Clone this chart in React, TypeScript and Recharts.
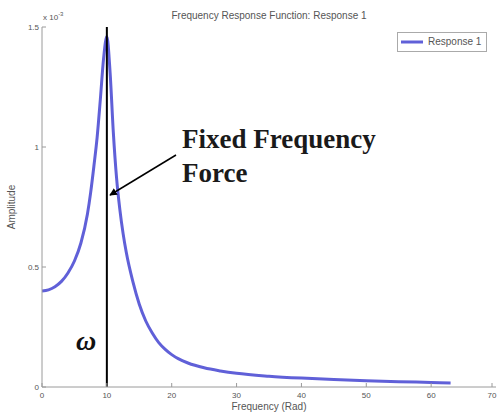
import React from 'react';
import {
  LineChart,
  Line,
  XAxis,
  YAxis,
  ReferenceLine
} from 'recharts';

// frequency (rad)
const freqs = [0, 1, 2, 3, 4, 5, 6, 7, 7.5, 8, 8.5, 9, 9.5, 10, 10.5, 11, 11.5, 12, 12.5, 13, 14, 15, 16, 17, 18, 19, 20, 21, 22.5, 25, 27.5, 30, 35, 40, 45, 50, 55, 60, 63];
// amplitude, in units of 1e-3
const amplitude = [0.4, 0.405, 0.418, 0.44, 0.475, 0.525, 0.6, 0.72, 0.81, 0.92, 1.04, 1.2, 1.37, 1.46, 1.31, 1.06, 0.87, 0.74, 0.64, 0.56, 0.44, 0.345, 0.275, 0.225, 0.185, 0.157, 0.135, 0.118, 0.1, 0.08, 0.067, 0.057, 0.045, 0.037, 0.031, 0.026, 0.022, 0.019, 0.017];

const xTicks = [0, 10, 20, 30, 40, 50, 60, 70];
const yTicks = [0, 0.5, 1, 1.5];
const forcedFreq = 10;

const data = freqs.map((f, i) => ({ f, amp: amplitude[i] }));

const AXIS = '#9a9a9a';
const TXT = '#555';
const FONT = 'Arial, "Liberation Sans", sans-serif';

const XTick = (props: any) => {
  const { x, y, payload } = props;
  return (
    <g>
      <line x1={x} y1={y} x2={x} y2={y - 4} stroke={AXIS} />
      <text x={x} y={y + 11} textAnchor="middle" fontSize={8} fill={TXT} fontFamily={FONT}>
        {payload.value}
      </text>
    </g>
  );
};

const TopTick = (props: any) => {
  const { x, y } = props;
  return <line x1={x} y1={y} x2={x} y2={y + 4} stroke={AXIS} />;
};

const YTick = (props: any) => {
  const { x, y, payload } = props;
  return (
    <g>
      <line x1={x} y1={y} x2={x + 4} y2={y} stroke={AXIS} />
      <text x={x - 3} y={y + 3} textAnchor="end" fontSize={8} fill={TXT} fontFamily={FONT}>
        {payload.value}
      </text>
    </g>
  );
};

const RightTick = (props: any) => {
  const { x, y } = props;
  return <line x1={x} y1={y} x2={x - 4} y2={y} stroke={AXIS} />;
};

export default function App() {
  return (
    <div style={{ position: 'absolute', left: 0, top: 0, width: 500, height: 412, background: '#fff' }}>
      <LineChart
        width={500}
        height={412}
        data={data}
        margin={{ top: 27, right: 4, bottom: 0, left: 0 }}
      >
        <XAxis
          dataKey="f"
          type="number"
          domain={[0, 70]}
          ticks={xTicks}
          allowDataOverflow
          stroke={AXIS}
          tickLine={false}
          tickSize={0}
          tickMargin={0}
          height={25}
          tick={<XTick />}
          label={{ value: 'Frequency (Rad)', position: 'insideBottom', offset: 2, fontSize: 10, fill: TXT, fontFamily: FONT }}
        />
        <XAxis
          xAxisId="top"
          orientation="top"
          dataKey="f"
          type="number"
          domain={[0, 70]}
          ticks={xTicks}
          allowDataOverflow
          stroke={AXIS}
          tickLine={false}
          tickSize={0}
          tickMargin={0}
          height={0}
          tick={<TopTick />}
        />
        <YAxis
          type="number"
          domain={[0, 1.5]}
          ticks={yTicks}
          allowDataOverflow
          stroke={AXIS}
          tickLine={false}
          tickSize={0}
          tickMargin={0}
          width={42}
          tick={<YTick />}
          label={{ value: 'Amplitude', angle: -90, position: 'insideLeft', offset: 11, fontSize: 10, fill: TXT, fontFamily: FONT, style: { textAnchor: 'middle' } }}
        />
        <YAxis
          yAxisId="right"
          orientation="right"
          type="number"
          domain={[0, 1.5]}
          ticks={yTicks}
          allowDataOverflow
          stroke={AXIS}
          tickLine={false}
          tickSize={0}
          tickMargin={0}
          width={0}
          tick={<RightTick />}
        />
        <Line
          type="monotone"
          dataKey="amp"
          stroke="#6060d8"
          strokeWidth={3}
          dot={false}
          isAnimationActive={false}
        />
        <ReferenceLine x={forcedFreq} stroke="#000" strokeWidth={2} />
      </LineChart>

      <svg width={500} height={412} style={{ position: 'absolute', left: 0, top: 0, pointerEvents: 'none' }}>
        <defs>
          <marker id="head" viewBox="0 0 10 10" refX="9" refY="5" markerWidth="5" markerHeight="5" orient="auto">
            <path d="M0,0 L10,5 L0,10 z" fill="#000" />
          </marker>
        </defs>
        <text x={269} y={19} textAnchor="middle" fontSize={10} fill={TXT} fontFamily={FONT}>
          Frequency Response Function: Response 1
        </text>
        <text x={43} y={20} fontSize={8} fill={TXT} fontFamily={FONT}>
          x 10<tspan dy={-4} fontSize={6}>-3</tspan>
        </text>
        <line x1={176} y1={155} x2={110} y2={195} stroke="#000" strokeWidth={1.5} markerEnd="url(#head)" />
        <text x={182} y={148} fontSize={27} fontWeight="bold" fill="#1a1a1a" fontFamily='"Liberation Serif", serif'>
          Fixed Frequency
        </text>
        <text x={182} y={182} fontSize={27} fontWeight="bold" fill="#1a1a1a" fontFamily='"Liberation Serif", serif'>
          Force
        </text>
        <text x={86} y={350} textAnchor="middle" fontSize={28} fontStyle="italic" fontWeight="bold" fill="#111" fontFamily='"Liberation Serif", serif'>
          ω
        </text>
        <rect x={397.5} y={32.5} width={89} height={19} fill="#fff" stroke="#aaa" />
        <line x1={401} y1={42} x2={423} y2={42} stroke="#6060d8" strokeWidth={3} />
        <text x={428} y={45} fontSize={10} fill={TXT} fontFamily={FONT}>
          Response 1
        </text>
      </svg>
    </div>
  );
}
